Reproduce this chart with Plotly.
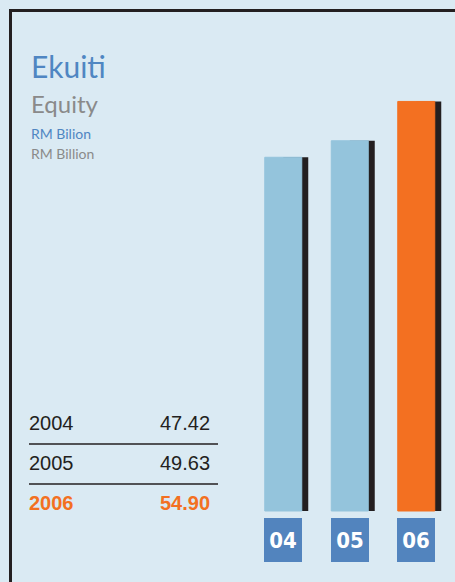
import plotly.graph_objects as go

# ---- data ----
years = ["2004", "2005", "2006"]
short_labels = ["04", "05", "06"]
values = [47.42, 49.63, 54.90]
value_labels = ["47.42", "49.63", "54.90"]
bar_colors = ["#94c4dc", "#94c4dc", "#f37021"]

W, H = 455, 582
BG = "#daeaf3"
SHADOW = "#231f20"
LABEL_BG = "#5284be"
BLUE_TXT = "#4f86c2"
GRAY_TXT = "#8a8a8a"
ORANGE = "#f37021"

# axis mapping: category spacing 66.5 px, first centre at 283.25 px; zero at y=511, 7.46 px/unit
sp = 66.5
c0 = 283.25
xr = [-c0 / sp, (W - c0) / sp]
py = 7.46
yr = [-(H - 511) / py, 511 / py]

xs = list(range(len(years)))
bw = 37 / sp
sw = 25 / sp

fig = go.Figure()
fig.add_trace(go.Bar(x=xs, y=values, width=[sw] * 3, offset=[0] * 3,
                     marker=dict(color=SHADOW, line=dict(width=0)), hoverinfo="skip"))
fig.add_trace(go.Bar(x=xs, y=values, width=[bw] * 3, offset=[-bw / 2] * 3,
                     marker=dict(color=bar_colors, line=dict(width=1, color=bar_colors)),
                     text=value_labels, textposition="none"))

annotations = []
def px_to_paper_y(p):
    return 1 - p / H
def px_to_paper_x(p):
    return p / W

# label boxes under bars
for i, lab in enumerate(short_labels):
    annotations.append(dict(x=i, xref="x", y=px_to_paper_y(540), yref="paper",
                            text="<b>" + lab + "</b>", showarrow=False,
                            width=38, height=44, bgcolor=LABEL_BG, borderpad=0, borderwidth=0,
                            font=dict(family="Liberation Sans Narrow, DejaVu Sans Condensed, Roboto Condensed, Roboto, Arial",
                                      size=22, color="white"),
                            xanchor="center", yanchor="middle"))

# titles
def txt(text, xpx, ypx, size, color, family="Lato, Open Sans, sans-serif", xanchor="left"):
    annotations.append(dict(x=px_to_paper_x(xpx), xref="paper", y=px_to_paper_y(ypx), yref="paper",
                            text=text, showarrow=False, xanchor=xanchor, yanchor="middle",
                            font=dict(family=family, size=size, color=color)))

txt("Ekuiti", 29, 66, 30, BLUE_TXT)
txt("Equity", 29, 103, 24, GRAY_TXT)
txt("RM Bilion", 29, 134, 14, BLUE_TXT)
txt("RM Billion", 29, 154, 14, GRAY_TXT)

# table
row_y = [423, 463, 503]
for i, (yr_lab, v) in enumerate(zip(years, value_labels)):
    col = ORANGE if i == 2 else "#231f20"
    y_lab = "<b>" + yr_lab + "</b>" if i == 2 else yr_lab
    v_lab = "<b>" + v + "</b>" if i == 2 else v
    txt(y_lab, 27, row_y[i], 20, col, family="Liberation Sans, Arial")
    txt(v_lab, 212, row_y[i], 20, col, family="Liberation Sans, Arial", xanchor="right")

shapes = [
    dict(type="line", xref="paper", yref="paper", x0=px_to_paper_x(29), x1=px_to_paper_x(218),
         y0=px_to_paper_y(444), y1=px_to_paper_y(444), line=dict(color="#231f20", width=1.3)),
    dict(type="line", xref="paper", yref="paper", x0=px_to_paper_x(29), x1=px_to_paper_x(218),
         y0=px_to_paper_y(484), y1=px_to_paper_y(484), line=dict(color="#231f20", width=1.3)),
    # frame
    dict(type="line", xref="paper", yref="paper", x0=px_to_paper_x(9), x1=1.01,
         y0=px_to_paper_y(10.5), y1=px_to_paper_y(10.5), line=dict(color="#231f20", width=3)),
    dict(type="line", xref="paper", yref="paper", x0=px_to_paper_x(10.5), x1=px_to_paper_x(10.5),
         y0=px_to_paper_y(9), y1=-0.01, line=dict(color="#231f20", width=3)),
]

fig.update_layout(
    width=W, height=H, margin=dict(l=0, r=0, t=0, b=0),
    paper_bgcolor=BG, plot_bgcolor=BG,
    barmode="overlay", showlegend=False,
    xaxis=dict(range=xr, domain=[0, 1], visible=False, fixedrange=True),
    yaxis=dict(range=yr, domain=[0, 1], visible=False, fixedrange=True),
    annotations=annotations, shapes=shapes,
)

fig.write_html("out.html", config={"displayModeBar": False},
               post_script="document.body.style.margin='0';document.body.style.overflow='hidden';")
